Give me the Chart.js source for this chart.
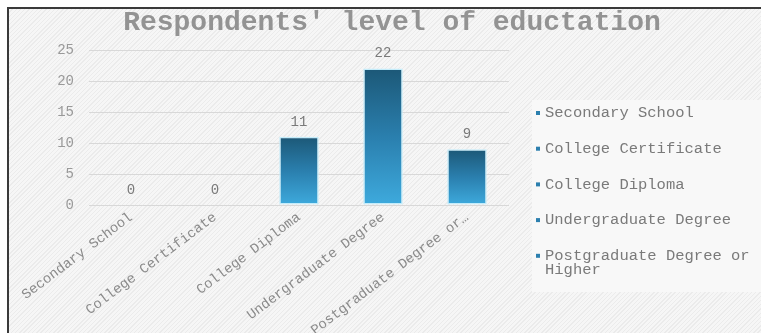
<!DOCTYPE html>
<html>
<head>
  <title>Respondents' level of education</title>
  <script src="https://cdn.jsdelivr.net/npm/chart.js"></script>
  <style>
    body {
      margin: 0;
      background: #fff;
    }

    #frame {
      position: absolute;
      left: 7px;
      top: 7px;
      width: 754px;
      height: 326px;
      border-top: 2px solid #3a3a3a;
      border-left: 2px solid #3a3a3a;
      background-color: #f5f5f5;
      background-image: repeating-linear-gradient(135deg, #f6f6f6 0px, #f6f6f6 2px, #ebebeb 2px, #ebebeb 3px);
    }

    canvas {
      display: block;
    }
  </style>
</head>
<body>
  <div id="frame">
    <canvas id="eduChart" width="754" height="326"></canvas>
  </div>

  <script>
    // chart data
    const categories = ["Secondary School", "College Certificate", "College Diploma", "Undergraduate Degree", "Postgraduate Degree or Higher"];
    const tickLabels = ["Secondary School", "College Certificate", "College Diploma", "Undergraduate Degree", "Postgraduate Degree or\u2026"];
    const respondents = [0, 0, 11, 22, 9];
    const legendLines = [["Secondary School"], ["College Certificate"], ["College Diploma"], ["Undergraduate Degree"], ["Postgraduate Degree or", "Higher"]];
    const chartTitle = "Respondents' level of eductation";

    const mono = "'Liberation Mono', 'Courier New', monospace";

    // gradient per bar, dark at the top and light at the base
    function barGradient(context) {
      const chart = context.chart;
      if (!chart.chartArea) return "#2e86b5";
      const yScale = chart.scales.y;
      const top = yScale.getPixelForValue(context.raw || 0);
      const bottom = yScale.getPixelForValue(0);
      if (bottom - top < 1) return "#2e86b5";
      const g = chart.ctx.createLinearGradient(0, top, 0, bottom);
      g.addColorStop(0, "#1c5877");
      g.addColorStop(0.5, "#2a7fae");
      g.addColorStop(1, "#3eaadd");
      return g;
    }

    // value labels above the bars
    const valueLabels = {
      id: "valueLabels",
      afterDatasetsDraw(chart) {
        const ctx = chart.ctx;
        const meta = chart.getDatasetMeta(0);
        ctx.save();
        ctx.font = "14px " + mono;
        ctx.fillStyle = "#7a7a7a";
        ctx.textAlign = "center";
        ctx.textBaseline = "middle";
        meta.data.forEach((bar, i) => {
          ctx.fillText(String(respondents[i]), bar.x, bar.y - 15);
        });
        ctx.restore();
      }
    };

    // title centred over the whole chart, wider than the plot
    const wideTitle = {
      id: "wideTitle",
      afterDraw(chart) {
        const ctx = chart.ctx;
        ctx.save();
        ctx.font = "bold 28px " + mono;
        ctx.fillStyle = "#939393";
        ctx.textAlign = "center";
        ctx.textBaseline = "middle";
        ctx.fillText(chartTitle, 383, 14);
        ctx.restore();
      }
    };

    // legend box on the right
    const sideLegend = {
      id: "sideLegend",
      afterDraw(chart) {
        const ctx = chart.ctx;
        const x0 = 523, y0 = 91;
        ctx.save();
        ctx.fillStyle = "#f8f8f8";
        ctx.fillRect(x0, y0, 754 - x0, 192);
        ctx.font = "15.5px " + mono;
        ctx.textBaseline = "middle";
        ctx.textAlign = "left";
        let y = y0 + 13;
        legendLines.forEach(lines => {
          ctx.fillStyle = "#2c7fae";
          ctx.fillRect(x0 + 4, y - 2, 4, 4);
          ctx.fillStyle = "#7a7a7a";
          lines.forEach((line, k) => {
            ctx.fillText(line, x0 + 13, y + k * 14);
          });
          y += 35.7;
        });
        ctx.restore();
      }
    };

    new Chart(document.getElementById("eduChart"), {
      type: "bar",
      data: {
        labels: tickLabels,
        datasets: [{
          label: "Respondents",
          data: respondents,
          backgroundColor: barGradient,
          borderColor: "#c4ecfa",
          borderWidth: 1.5,
          borderSkipped: false,
          categoryPercentage: 1,
          barPercentage: 0.47
        }]
      },
      options: {
        responsive: false,
        animation: false,
        layout: {
          padding: { left: 0, right: 254, top: 41, bottom: 0 }
        },
        plugins: {
          legend: { display: false },
          tooltip: { enabled: false },
          title: { display: false }
        },
        scales: {
          x: {
            grid: { display: false, drawTicks: false },
            border: { display: false },
            ticks: {
              color: "#8a8a8a",
              font: { family: mono, size: 14 },
              minRotation: 37,
              maxRotation: 37,
              autoSkip: false,
              padding: 4
            },
            afterFit: s => { s.height = 130; }
          },
          y: {
            min: 0,
            max: 25,
            ticks: {
              stepSize: 5,
              color: "#999",
              font: { family: mono, size: 14 },
              padding: 15
            },
            grid: { color: "#d8d8d8", lineWidth: 1, drawTicks: false },
            border: { display: false },
            afterFit: s => { s.width = 80; }
          }
        }
      },
      plugins: [valueLabels, wideTitle, sideLegend]
    });
  </script>
</body>
</html>
